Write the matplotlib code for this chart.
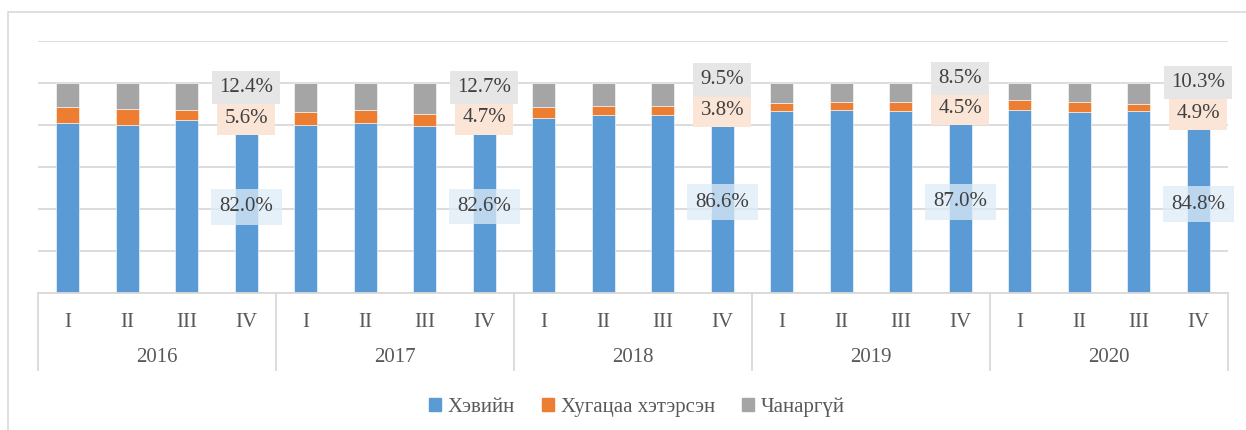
import numpy as np
import matplotlib
matplotlib.use('Agg')
import matplotlib.pyplot as plt
from matplotlib.patches import Patch, Rectangle
import matplotlib.transforms as mtransforms

years = ['2016', '2017', '2018', '2019', '2020']
quarters = ['I', 'II', 'III', 'IV']

# shares in %, per quarter (2016 I ... 2020 IV)
normal = [81.0, 80.1, 82.3, 82.0,
          80.1, 80.7, 79.6, 82.6,
          83.4, 84.6, 84.6, 86.6,
          86.5, 86.9, 86.4, 87.0,
          87.3, 86.1, 86.4, 84.8]
overdue = [7.4, 7.6, 4.9, 5.6,
           6.0, 6.2, 5.7, 4.7,
           5.2, 4.6, 4.6, 3.8,
           4.0, 3.9, 4.4, 4.5,
           4.3, 5.0, 3.6, 4.9]
bad = [11.6, 12.3, 12.8, 12.4,
       13.9, 13.1, 14.7, 12.7,
       11.4, 10.8, 10.8, 9.5,
       9.5, 9.2, 9.2, 8.5,
       8.4, 8.9, 10.0, 10.3]
series_names = ['Хэвийн', 'Хугацаа хэтэрсэн', 'Чанаргүй']

c_blue = '#5B9BD5'
c_orange = '#ED7D31'
c_gray = '#A5A5A5'
txt = '#404040'
tick_c = '#595959'
grid_c = '#D9D9D9'
fs = 15

plt.rcParams['font.family'] = ['Liberation Serif', 'DejaVu Serif']

fig = plt.figure(figsize=(12.46, 4.30), dpi=100)
W, H = 1246, 430
ax = fig.add_axes([38 / W, (430 - 293.3) / H, 1190 / W, 252.6 / H])

# outer chart frame
fig.patches.append(Rectangle((8 / W, -0.1), 1.2, (430 - 11.7) / H + 0.1,
                             transform=fig.transFigure, fill=False,
                             edgecolor='#D9D9D9', linewidth=1.2))

normal = np.array(normal)
overdue = np.array(overdue)
bad = np.array(bad)
x = np.arange(len(normal))
bw = 0.39

ax.bar(x, normal, bw, color=c_blue, edgecolor='white', linewidth=0.4, zorder=2)
ax.bar(x, overdue, bw, bottom=normal, color=c_orange, edgecolor='white', linewidth=0.4, zorder=2)
ax.bar(x, bad, bw, bottom=normal + overdue, color=c_gray, edgecolor='white', linewidth=0.4, zorder=2)

ax.set_xlim(-0.5, len(x) - 0.5)
ax.set_ylim(0, 120)
ax.set_yticks(np.arange(0, 121, 20))
ax.yaxis.grid(True, color=grid_c, linewidth=1.3, zorder=0)
ax.tick_params(axis='y', length=0, labelleft=False)
for s in ['left', 'right', 'top']:
    ax.spines[s].set_visible(False)
ax.spines['bottom'].set_color(grid_c)
ax.spines['bottom'].set_linewidth(1.3)

# two level category axis
ax.set_xticks(x)
ax.set_xticklabels(quarters * len(years), fontsize=fs, color=tick_c)
ax.tick_params(axis='x', length=0, pad=14)
trans = mtransforms.blended_transform_factory(ax.transData, ax.transAxes)
for i in range(len(years) + 1):
    xb = i * 4 - 0.5
    ax.plot([xb, xb], [0, -0.305], transform=trans, color=grid_c,
            linewidth=1.3, clip_on=False)
for i, yr in enumerate(years):
    ax.text(i * 4 + 1.5, -0.255, yr, transform=trans, ha='center', va='center',
            fontsize=fs, color=tick_c)

# value labels on the fourth quarter of each year
for i in range(3, len(x), 4):
    ax.annotate(f'{normal[i]:.1f}%', (x[i], normal[i] / 2), ha='center', va='center',
                fontsize=fs, color=txt, zorder=5,
                bbox=dict(boxstyle='square,pad=0.4', fc='#DDEBF7', ec='none', alpha=0.75))
    ax.annotate(f'{overdue[i]:.1f}%', (x[i], normal[i] + overdue[i] / 2),
                xytext=(0, -2.5), textcoords='offset points', ha='center', va='center',
                fontsize=fs, color=txt, zorder=5,
                bbox=dict(boxstyle='square,pad=0.34', fc='#FBE5D6', ec='none'))
    ax.annotate(f'{bad[i]:.1f}%', (x[i], normal[i] + overdue[i] / 2),
                xytext=(0, 19.5), textcoords='offset points', ha='center', va='center',
                fontsize=fs, color=txt, zorder=6,
                bbox=dict(boxstyle='square,pad=0.34', fc='#E7E6E6', ec='none'))

handles = [Patch(color=c) for c in [c_blue, c_orange, c_gray]]
fig.legend(handles, series_names, loc='center', bbox_to_anchor=(0.511, 1 - 407 / H),
           ncol=3, frameon=False, fontsize=fs, handlelength=0.6, handleheight=0.6,
           handletextpad=0.3, columnspacing=1.3, labelcolor=tick_c)

fig.savefig('out.png', dpi=100)
